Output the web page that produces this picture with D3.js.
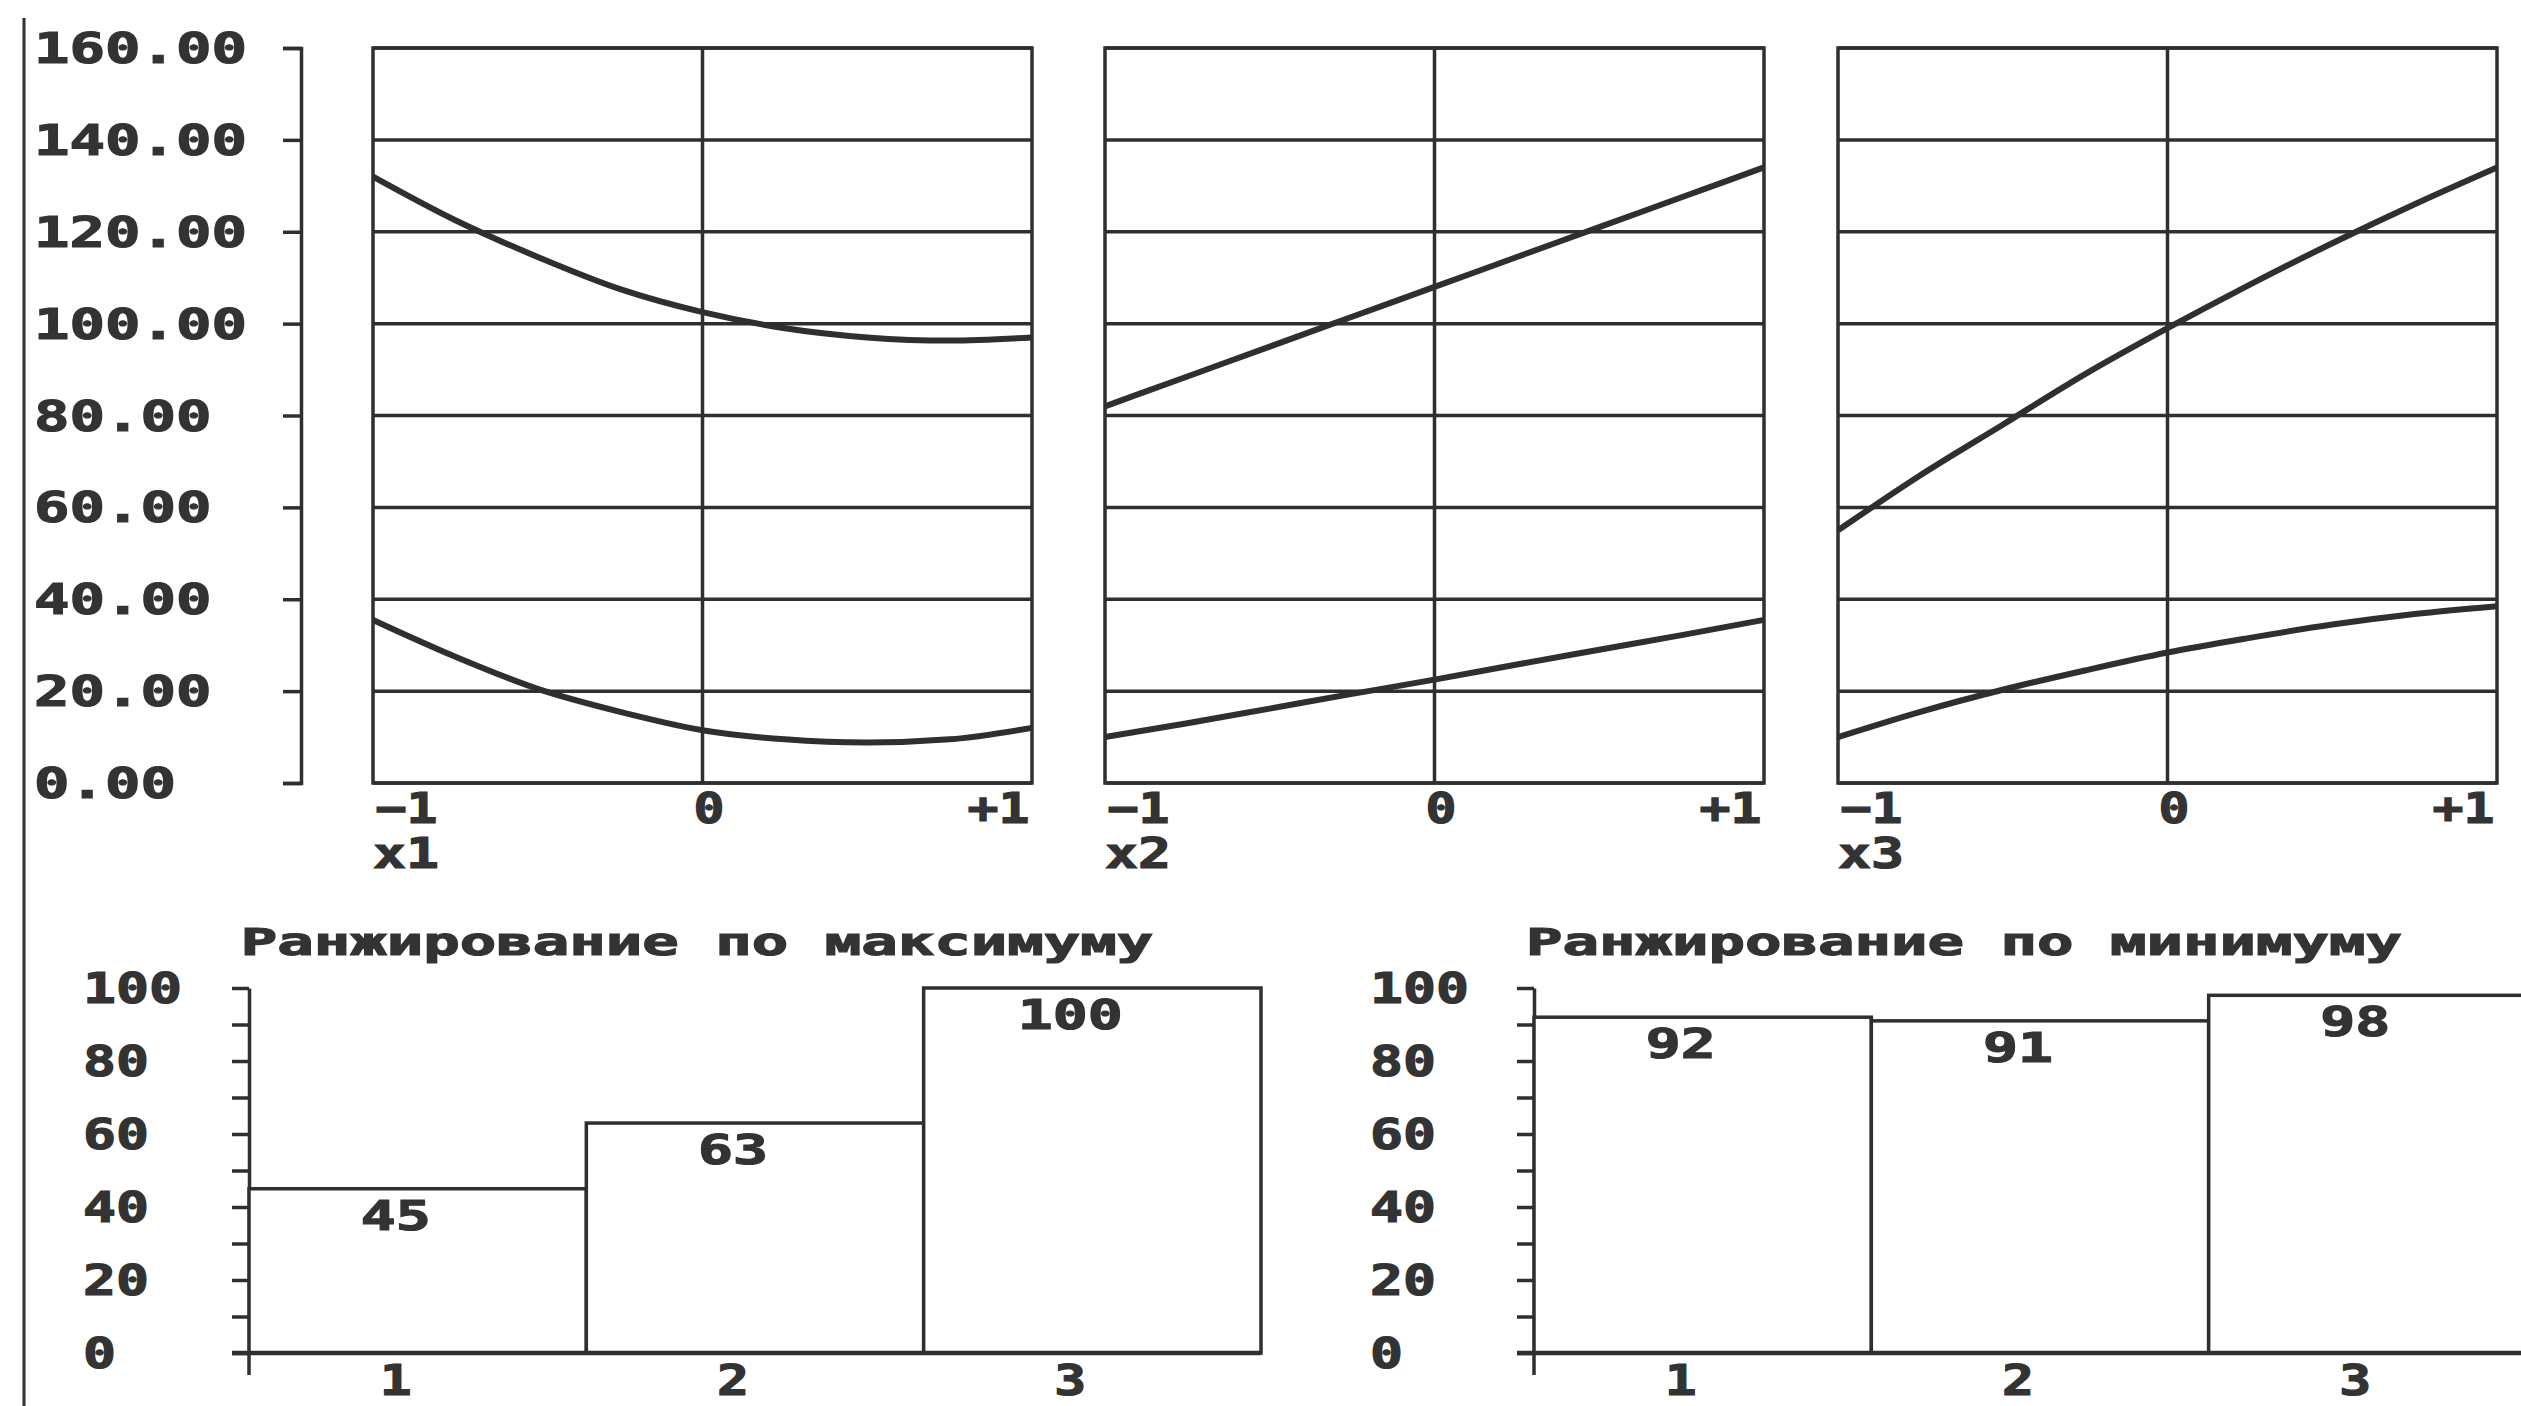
<!DOCTYPE html>
<html>
<head>
<meta charset="utf-8">
<script src="https://cdn.jsdelivr.net/npm/d3@7"></script>
<style>
  body { margin: 0; background: #fff; }
  svg { display: block; }
  text { font-family: "DejaVu Sans Mono", "Liberation Mono", monospace; font-weight: bold; fill: #333; stroke: #333; stroke-width: 1.2px; }
</style>
</head>
<body>
<script>
(function(){

    /////////// DATA //////////
    const xLevels = [-1, -0.75, -0.5, -0.25, 0, 0.25, 0.5, 0.75, 1]; // factor level (coded)
    const factorNames = ["x1", "x2", "x3"];
    const upperX1 = [132, 122.5, 114.5, 107.5, 102.5, 99, 97, 96.3, 97];
    const lowerX1 = [35.5, 27.5, 20.5, 15.5, 11.5, 9.5, 8.8, 9.5, 12];
    const upperX2 = [82, 88.5, 95, 101.5, 108, 114.5, 121, 127.5, 134];
    const lowerX2 = [10, 13, 16.2, 19.4, 22.5, 25.8, 29, 32.2, 35.5];
    const upperX3 = [55, 67, 78, 89, 99, 108.5, 117.5, 126, 134];
    const lowerX3 = [10, 15.5, 20.3, 24.5, 28.4, 31.6, 34.5, 36.8, 38.5];
    const yTicksTop = [0, 20, 40, 60, 80, 100, 120, 140, 160];
    const xTickLabels = ["\u22121", "0", "+1"];

    const rankCats = ["1", "2", "3"];
    const maxRanks = [45, 63, 100];
    const minRanks = [92, 91, 98];
    const rankTitles = ["Ранжирование по максимуму", "Ранжирование по минимуму"];
    const rankTicks = [0, 20, 40, 60, 80, 100];

    /////////// LAYOUT //////////
    const width = 2521, height = 1406;
    const ink = "#2f2f2f";

    const svg = d3.select("body").append("svg")
        .attr("width", width)
        .attr("height", height);

    function stretch(sel, cw) { // widen glyphs like the wide bitmap font
        sel.each(function(){
            const t = d3.select(this);
            t.attr("textLength", t.text().length * cw).attr("lengthAdjust", "spacingAndGlyphs");
        });
    }

    // left frame line of the screen
    svg.append("line")
        .attr("x1", 24).attr("x2", 24).attr("y1", 18).attr("y2", height)
        .attr("stroke", ink).attr("stroke-width", 3);

    /////////// UPPER: RESPONSE CURVES //////////
    const yTop = d3.scaleLinear().domain([0, 160]).range([783, 48]);

    svg.append("g")
        .attr("transform", "translate(301,0)")
        .call(d3.axisLeft(yTop).tickValues(yTicksTop).tickSize(18).tickSizeOuter(18).tickFormat(""))
        .call(g => g.selectAll("path, line").attr("stroke", ink).attr("stroke-width", 3.5));

    svg.append("g").selectAll("text")
        .data(yTicksTop)
        .join("text")
        .attr("x", 34)
        .attr("y", d => yTop(d))
        .attr("dy", "0.36em")
        .attr("font-size", 42)
        .text(d => d3.format(".2f")(d))
        .call(stretch, 35.5);

    const panelX = [373, 1105, 1838];
    const panelW = 659;
    const curves = [[upperX1, lowerX1], [upperX2, lowerX2], [upperX3, lowerX3]];

    panelX.forEach((x0, i) => {
        const xs = d3.scaleLinear().domain([-1, 1]).range([x0, x0 + panelW]);
        const g = svg.append("g");

        // horizontal grid
        g.selectAll(".hgrid")
            .data(yTicksTop)
            .join("line")
            .attr("x1", x0).attr("x2", x0 + panelW)
            .attr("y1", d => yTop(d)).attr("y2", d => yTop(d))
            .attr("stroke", ink).attr("stroke-width", 3.5);

        // frame and zero line
        g.append("rect")
            .attr("x", x0).attr("y", yTop(160))
            .attr("width", panelW).attr("height", yTop(0) - yTop(160))
            .attr("fill", "none").attr("stroke", ink).attr("stroke-width", 3.5);
        g.append("line")
            .attr("x1", xs(0)).attr("x2", xs(0))
            .attr("y1", yTop(160)).attr("y2", yTop(0))
            .attr("stroke", ink).attr("stroke-width", 3.5);

        // curves
        const line = d3.line()
            .x((d, j) => xs(xLevels[j]))
            .y(d => yTop(d))
            .curve(d3.curveMonotoneX);
        g.selectAll(".curve")
            .data(curves[i])
            .join("path")
            .attr("d", line)
            .attr("fill", "none").attr("stroke", ink).attr("stroke-width", 6);

        // x ticks -1 0 +1
        g.append("g")
            .attr("transform", `translate(0,${yTop(0)})`)
            .call(d3.axisBottom(xs).tickValues([-1, 0, 1]).tickSize(0).tickFormat((d, j) => xTickLabels[j]))
            .call(a => a.select(".domain").remove())
            .call(a => a.selectAll("text")
                .attr("y", 40).attr("dy", 0)
                .attr("font-size", 42).attr("fill", "#333")
                .attr("font-family", null)
                .attr("text-anchor", (d, j) => j === 0 ? "start" : (j === 2 ? "end" : "middle"))
                .attr("x", (d, j) => j === 0 ? 2 : (j === 2 ? -3 : 6))
                .call(stretch, 31));

        g.append("text")
            .attr("x", x0).attr("y", 868)
            .attr("font-size", 42)
            .text(factorNames[i])
            .call(stretch, 33);
    });

    /////////// LOWER: RANKING BARS //////////
    const yBar = d3.scaleLinear().domain([0, 100]).range([1353, 988]);

    function drawRanking(axisX, labelX, titleX, title, values) {
        const g = svg.append("g");
        const xb = d3.scaleBand().domain(rankCats).range([axisX, axisX + 1012]).padding(0);

        g.append("text")
            .attr("x", titleX).attr("y", 955)
            .attr("text-anchor", "middle")
            .attr("font-size", 38)
            .text(title)
            .call(stretch, 36.5);

        g.append("g")
            .attr("transform", `translate(${axisX},0)`)
            .call(d3.axisLeft(yBar).tickValues(d3.range(0, 101, 10)).tickSize(17).tickSizeOuter(0).tickFormat(""))
            .call(a => a.selectAll("path, line").attr("stroke", ink).attr("stroke-width", 3.5));

        g.append("line") // axis runs a little past the origin
            .attr("x1", axisX).attr("x2", axisX)
            .attr("y1", yBar(0)).attr("y2", yBar(0) + 22)
            .attr("stroke", ink).attr("stroke-width", 3.5);

        g.selectAll(".ylab")
            .data(rankTicks)
            .join("text")
            .attr("x", labelX).attr("y", d => yBar(d))
            .attr("dy", "0.36em")
            .attr("font-size", 42)
            .text(d => d)
            .call(stretch, 33);

        g.selectAll(".bar")
            .data(values)
            .join("rect")
            .attr("x", (d, j) => xb(rankCats[j]))
            .attr("y", d => yBar(d))
            .attr("width", xb.bandwidth())
            .attr("height", d => yBar(0) - yBar(d))
            .attr("fill", "#fff").attr("stroke", ink).attr("stroke-width", 3.5);

        g.append("line") // base line
            .attr("x1", axisX - 17).attr("x2", axisX + 1012)
            .attr("y1", yBar(0)).attr("y2", yBar(0))
            .attr("stroke", ink).attr("stroke-width", 4.5);

        g.selectAll(".val")
            .data(values)
            .join("text")
            .attr("x", (d, j) => xb(rankCats[j]) + xb.bandwidth() / 2 - 22)
            .attr("y", d => yBar(d) + 41)
            .attr("text-anchor", "middle")
            .attr("font-size", 40)
            .text(d => d)
            .call(stretch, 35);

        g.selectAll(".cat")
            .data(rankCats)
            .join("text")
            .attr("x", d => xb(d) + xb.bandwidth() / 2 - 22)
            .attr("y", 1395)
            .attr("text-anchor", "middle")
            .attr("font-size", 42)
            .text(d => d)
            .call(stretch, 32);
    }

    drawRanking(249, 83, 697, rankTitles[0], maxRanks);
    drawRanking(1534, 1370, 1964, rankTitles[1], minRanks);

})();
</script>
</body>
</html>
